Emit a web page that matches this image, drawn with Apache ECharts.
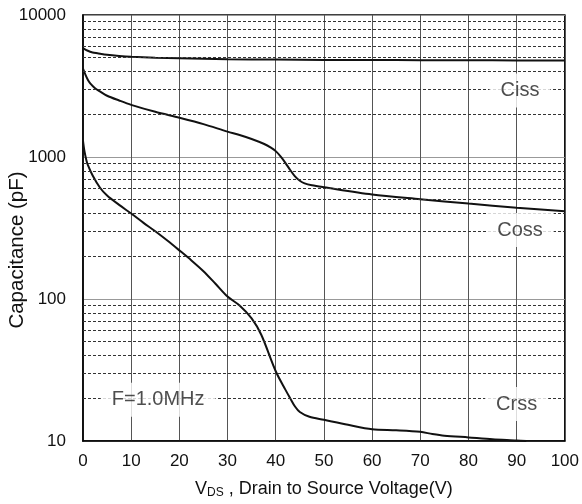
<!DOCTYPE html>
<html><head><meta charset="utf-8">
<script src="https://cdn.jsdelivr.net/npm/echarts@6/dist/echarts.min.js"></script>
<style>html,body{margin:0;padding:0;background:#fff}#c{width:582px;height:504px}</style>
</head><body><div id="c"></div>
<script>
// Data
const voltsCiss = [0,1,2,3,5,7.5,10,15,20,30,40,50,60,70,80,90,100];
const ciss = [5850,5600,5450,5380,5250,5150,5080,5000,4950,4880,4850,4830,4820,4810,4800,4790,4780];
const voltsCoss = [0,0.5,1,1.5,2.5,3.5,5,7.5,10,15,20,25,30,32.5,35,37.5,39,40,41,42,43,44,45,46,47.5,50,60,70,80,90,100];
const coss = [4200,3800,3500,3300,3050,2900,2700,2500,2330,2080,1890,1705,1510,1430,1340,1240,1165,1100,1010,910,810,730,680,652,632,612,545,505,470,440,415];
const voltsCrss = [0,0.3,0.7,1,2,3.5,5,7.5,10,12.5,15,17.5,20,22.5,25,27.5,30,32.5,35,37,40,42,43,44,45,47,50,55,60,65,70,72.5,75,80,85,90,92];
const crss = [1300,1100,950,880,740,610,535,460,400,345,300,258,220,187,157,128,104,90,73,56,31,23,20,17.5,16,14.8,14.1,13,12.1,11.9,11.6,11.2,10.9,10.6,10.3,10.1,10];
const minorGrid = [20,30,40,50,60,70,80,90,200,300,400,500,600,700,800,900,2000,3000,4000,5000,6000,7000,8000,9000];
const noteText = ['Ciss','Coss','Crss','F=1.0MHz'];
const noteX = [90.7, 90.7, 90, 15.6];
const noteY = [2940, 306, 18.2, 19.5];

const font = 'Liberation Sans, Arial, sans-serif';
const chart = echarts.init(document.getElementById('c'));
const pair = (xs, ys) => xs.map((x, i) => [x, ys[i]]);
const lineStyle = {color: '#111', width: 2};
const curve = {type: 'line', showSymbol: false, smooth: 0.3, lineStyle, z: 3};
chart.setOption({
  animation: false,
  grid: {left: 83, right: 16, top: 15, bottom: 61, show: true, borderColor: '#000', borderWidth: 1.5, backgroundColor: 'transparent'},
  xAxis: {
    type: 'value', min: 0, max: 100, interval: 10,
    axisLine: {show: true, lineStyle: {color: '#000', width: 1.5}},
    axisTick: {show: false},
    axisLabel: {fontSize: 17, color: '#111', fontFamily: font, margin: 12},
    splitLine: {show: true, lineStyle: {color: '#555', width: 1}},
    name: '{v|V}{sub|DS}{n| , Drain to Source Voltage(V)}',
    nameLocation: 'middle', nameGap: 38,
    nameTextStyle: {rich: {
      v: {fontSize: 18, color: '#111', fontFamily: font},
      sub: {fontSize: 12, color: '#111', fontFamily: font, padding: [8, 0, 0, 0]},
      n: {fontSize: 18, color: '#111', fontFamily: font}
    }}
  },
  yAxis: {
    type: 'log', logBase: 10, min: 10, max: 10000,
    axisLine: {show: true, lineStyle: {color: '#000', width: 1.5}},
    axisTick: {show: false},
    axisLabel: {fontSize: 17, color: '#111', fontFamily: font, margin: 17, formatter: v => String(v)},
    splitLine: {show: true, lineStyle: {color: '#999', width: 1}},
    minorTick: {show: false}, minorSplitLine: {show: false}
  },
  graphic: [{
    type: 'text', x: 17, y: 250, rotation: Math.PI / 2,
    style: {text: 'Capacitance (pF)', fontSize: 20.5, fontFamily: font, fill: '#111', align: 'center', verticalAlign: 'middle'}
  }],
  series: [
    Object.assign({}, curve, {data: pair(voltsCiss, ciss),
     markLine: {silent: true, symbol: 'none', label: {show: false},
       lineStyle: {color: '#333', type: [3, 2], width: 1},
       data: minorGrid.map(v => ({yAxis: v}))}}),
    Object.assign({}, curve, {data: pair(voltsCoss, coss)}),
    Object.assign({}, curve, {data: pair(voltsCrss, crss)}),
    {type: 'scatter', symbolSize: 0, z: 5,
     data: noteText.map((t, i) => [noteX[i], noteY[i], t]),
     label: {show: true, position: 'inside', formatter: p => p.value[2],
       fontSize: 20, lineHeight: 22, fontFamily: font, color: '#222', backgroundColor: '#fff', padding: [6, 11]}}
  ]
});
</script></body></html>
